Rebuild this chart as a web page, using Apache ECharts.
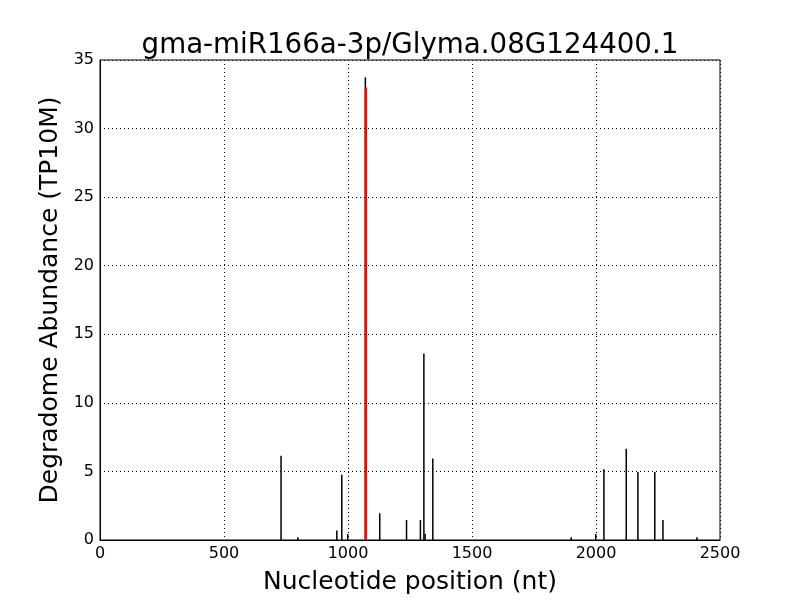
<!DOCTYPE html>
<html>
<head>
<meta charset="utf-8">
<script src="https://cdn.jsdelivr.net/npm/echarts@6/dist/echarts.min.js"></script>
<style>html,body{margin:0;padding:0;background:#fff}#c{width:800px;height:600px}</style>
</head>
<body>
<div id="c"></div>
<script>
var positions = [732, 800, 957, 977, 1001, 1072, 1130, 1238, 1294, 1308, 1313, 1344, 1902, 2001, 2034, 2124, 2171, 2239, 2272, 2409];
var abundances = [6.15, 0.2, 0.7, 4.75, 0.45, 33.75, 1.95, 1.45, 1.45, 13.6, 0.45, 5.95, 0.2, 0.45, 5.15, 6.65, 4.95, 4.95, 1.45, 0.2];
var cleavagePosition = [1072];
var cleavageHeight = [33.0];
var titleText = 'gma-miR166a-3p/Glyma.08G124400.1';

var font = 'DejaVu Sans';
var chart = echarts.init(document.getElementById('c'), null, {renderer: 'canvas'});
chart.setOption({
  animation: false,
  backgroundColor: '#fff',
  title: {
    text: titleText, left: 405, top: 27, textAlign: 'center',
    textStyle: {fontFamily: font, fontSize: 27.7, fontWeight: 'normal', color: '#000'}
  },
  grid: {left: 100, right: 80, top: 60, bottom: 60, show: true, borderColor: '#000', borderWidth: 1, backgroundColor: 'transparent'},
  xAxis: {
    type: 'value', min: 0, max: 2500, interval: 500,
    name: 'Nucleotide position (nt)', nameLocation: 'middle', nameGap: 30,
    nameTextStyle: {fontFamily: font, fontSize: 25, color: '#000'},
    axisLine: {show: true, lineStyle: {color: '#000'}},
    axisTick: {show: false},
    axisLabel: {fontFamily: font, fontSize: 16, color: '#000', margin: 6, formatter: function (v) { return String(v); }},
    splitLine: {show: true, lineStyle: {color: '#000', type: [1, 3], width: 1}}
  },
  yAxis: {
    type: 'value', min: 0, max: 35, interval: 5,
    name: 'Degradome Abundance (TP10M)', nameLocation: 'middle', nameGap: 33,
    nameTextStyle: {fontFamily: font, fontSize: 25, color: '#000'},
    axisLine: {show: true, lineStyle: {color: '#000'}},
    axisTick: {show: false},
    axisLabel: {fontFamily: font, fontSize: 16, color: '#000', margin: 6, formatter: function (v) { return String(v); }},
    splitLine: {show: true, lineStyle: {color: '#000', type: [1, 3], width: 1}}
  },
  series: [
    {
      type: 'bar', barWidth: 1.5, barGap: '-100%', z: 2,
      itemStyle: {color: '#000'},
      data: positions.map(function (p, i) { return [p, abundances[i]]; })
    },
    {
      type: 'bar', barWidth: 2.5, barGap: '-100%', z: 3,
      itemStyle: {color: '#ff0000'},
      data: cleavagePosition.map(function (p, i) { return [p, cleavageHeight[i]]; })
    }
  ]
});
</script>
</body>
</html>
